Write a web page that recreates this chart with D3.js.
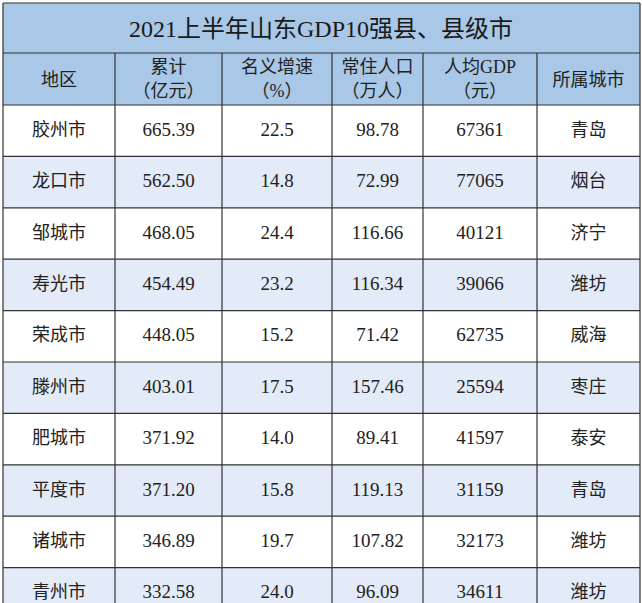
<!DOCTYPE html><html><head><meta charset="utf-8"><script src="https://cdn.jsdelivr.net/npm/d3@7"></script>
<style>body{margin:0;background:#fff}</style></head><body><svg id="c" width="642" height="603"></svg>
<script>
const title="2021上半年山东GDP10强县、县级市";
const headers=[["地区"],["累计","(亿元)"],["名义增速","(%)"],["常住人口","(万人)"],["人均GDP","(元)"],["所属城市"]];
const regions=["胶州市","龙口市","邹城市","寿光市","荣成市","滕州市","肥城市","平度市","诸城市","青州市"];
const totals=["665.39","562.50","468.05","454.49","448.05","403.01","371.92","371.20","346.89","332.58"];
const growth=["22.5","14.8","24.4","23.2","15.2","17.5","14.0","15.8","19.7","24.0"];
const pop=["98.78","72.99","116.66","116.34","71.42","157.46","89.41","119.13","107.82","96.09"];
const perCap=["67361","77065","40121","39066","62735","25594","41597","31159","32173","34611"];
const cities=["青岛","烟台","济宁","潍坊","威海","枣庄","泰安","青岛","潍坊","潍坊"];
const font='"Liberation Serif","Noto Sans CJK SC",serif';
const svg=d3.select("#c");
const edges=[3,115,222,332,423,537,640];
const x=i=>edges[i];
const rowH=51.4, top0=105;
const y=d3.scaleLinear().domain([0,1]).range([top0,top0+rowH]);
const g=svg.append("g");
g.append("rect").attr("x",3).attr("y",3).attr("width",637).attr("height",102).attr("fill","#a9c7e6");
g.append("text").attr("x",321).attr("y",37).attr("text-anchor","middle").attr("font-family",font).attr("font-size",24).attr("fill","#1a1a1a").text(title);
headers.forEach((h,i)=>{
  const cx=(x(i)+x(i+1))/2;
  h.forEach((t,j)=>{
    g.append("text").attr("x",cx).attr("y",h.length===1?86:73+j*24).attr("text-anchor","middle")
     .attr("font-family",font).attr("font-size",18).attr("fill","#222").text(t.replace("(","（").replace(")","）"));
  });
});
const cols=[regions,totals,growth,pop,perCap,cities];
regions.forEach((r,k)=>{
  g.append("rect").attr("x",3).attr("y",y(k)).attr("width",637).attr("height",rowH).attr("fill",k%2?"#e2ebf7":"#fff");
  cols.forEach((c,i)=>{
    g.append("text").attr("x",(x(i)+x(i+1))/2).attr("y",y(k)+rowH/2+5).attr("text-anchor","middle")
     .attr("font-family",font).attr("font-size",i===0||i===5?18:19).attr("fill","#222").text(c[k]);
  });
});
const st="#333";
[3,53,105].forEach(v=>g.append("line").attr("x1",3).attr("x2",640).attr("y1",v).attr("y2",v).attr("stroke",st).attr("stroke-width",1.2));
d3.range(1,11).forEach(k=>g.append("line").attr("x1",3).attr("x2",640).attr("y1",y(k)).attr("y2",y(k)).attr("stroke",st).attr("stroke-width",1.2));
edges.forEach((v,i)=>g.append("line").attr("x1",v).attr("x2",v).attr("y1",(i===0||i===6)?3:53).attr("y2",603).attr("stroke",st).attr("stroke-width",1.2));
</script></body></html>
